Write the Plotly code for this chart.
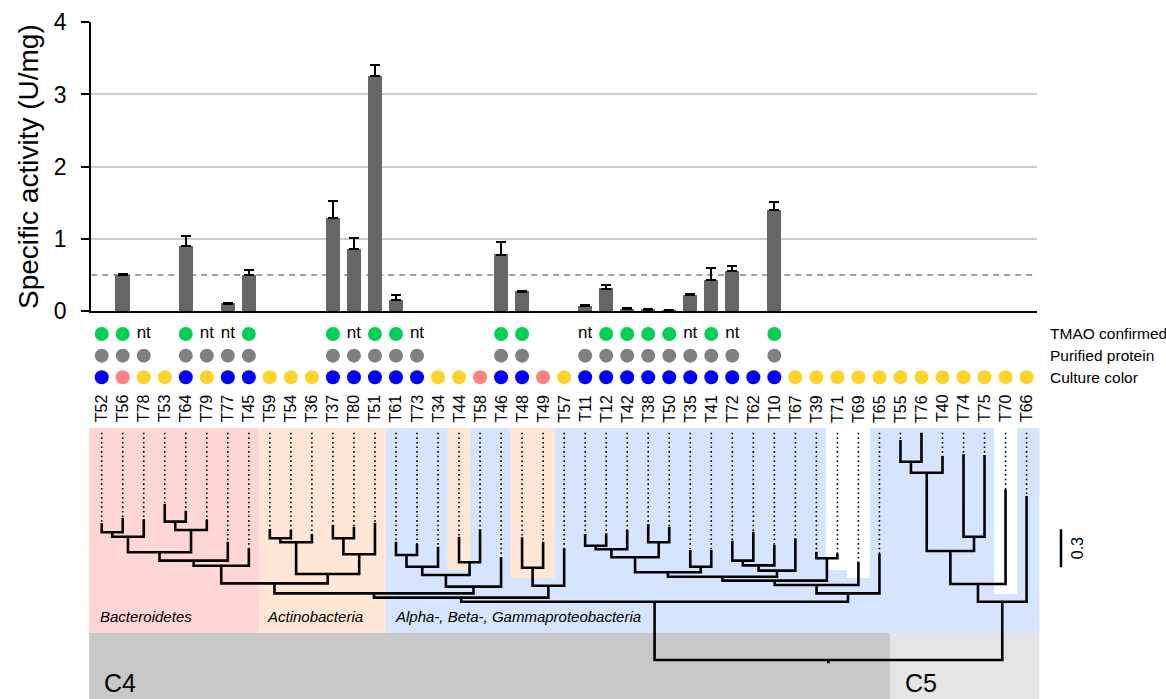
import plotly.graph_objects as go

W, H = 1166, 699
FONT = "Liberation Sans, Arial, sans-serif"

# ---------------------------------------------------------------- data
strains = ["T52", "T56", "T78", "T53", "T64", "T79", "T77", "T45", "T59", "T54",
           "T36", "T37", "T80", "T51", "T61", "T73", "T34", "T44", "T58", "T46",
           "T48", "T49", "T57", "T11", "T12", "T42", "T38", "T50", "T35", "T41",
           "T72", "T62", "T10", "T67", "T39", "T71", "T69", "T65", "T55", "T76",
           "T40", "T74", "T75", "T70", "T66"]

# specific activity (U/mg) and its SD; None = not measured
activity = [None, 0.50, None, None, 0.90, None, 0.10, 0.50, None, None,
            None, 1.29, 0.86, 3.25, 0.15, None, None, None, None, 0.78,
            0.27, None, None, 0.07, 0.31, 0.03, 0.02, 0.008, 0.22, 0.43,
            0.55, None, 1.40, None, None, None, None, None, None, None,
            None, None, None, None, None]
activity_sd = [None, 0.01, None, None, 0.14, None, 0.015, 0.07, None, None,
               None, 0.23, 0.15, 0.16, 0.07, None, None, None, None, 0.18,
               0.01, None, None, 0.01, 0.05, 0.01, 0.01, 0.0, 0.01, 0.16,
               0.08, None, 0.11, None, None, None, None, None, None, None,
               None, None, None, None, None]
threshold = 0.5

# TMAO confirmed: "y" = confirmed, "nt" = not tested, "" = no entry
tmao = ["y", "y", "nt", "", "y", "nt", "nt", "y", "", "",
        "", "y", "nt", "y", "y", "nt", "", "", "", "y",
        "y", "", "", "nt", "y", "y", "y", "y", "nt", "y",
        "nt", "", "y", "", "", "", "", "", "", "",
        "", "", "", "", ""]
purified = [1, 1, 1, 0, 1, 1, 1, 1, 0, 0,
            0, 1, 1, 1, 1, 1, 0, 0, 0, 1,
            1, 0, 0, 1, 1, 1, 1, 1, 1, 1,
            1, 0, 1, 0, 0, 0, 0, 0, 0, 0,
            0, 0, 0, 0, 0]
culture = ["blue", "pink", "yellow", "yellow", "blue", "yellow", "blue", "blue", "yellow", "yellow",
           "yellow", "blue", "blue", "blue", "blue", "blue", "yellow", "yellow", "pink", "blue",
           "blue", "pink", "yellow", "blue", "blue", "blue", "blue", "blue", "blue", "blue",
           "blue", "blue", "blue", "yellow", "yellow", "yellow", "yellow", "yellow", "yellow", "yellow",
           "yellow", "yellow", "yellow", "yellow", "yellow"]
row_labels = ["TMAO confirmed", "Purified protein", "Culture color"]

# tree: distance of every tip from the root (substitutions per site)
tip_depth = [1.079, 1.123, 1.110, 1.231, 1.178, 1.110, 0.934, 0.882, 1.034, 1.026,
             0.994, 1.066, 1.052, 1.084, 0.934, 0.916, 0.894, 0.973, 1.032, 0.811,
             0.968, 0.934, 0.882, 0.994, 1.000, 1.026, 1.073, 1.052, 0.868, 0.868,
             0.942, 1.013, 0.908, 0.961, 0.855, 0.842, 0.776, 0.837, 1.736, 1.794,
             1.610, 1.624, 1.618, 1.347, 1.294]
# internal nodes: (node, child a, child b, distance from root)
tree_nodes = [
    ("n1", "T52", "T56", 1.008), ("n2", "n1", "T78", 0.973),
    ("n3", "T53", "T64", 1.092), ("n4", "n3", "T79", 1.026),
    ("n5", "n2", "n4", 0.850), ("n6", "n5", "T77", 0.784),
    ("n7", "n6", "T45", 0.744),
    ("n8", "T59", "T54", 0.961), ("n9", "n8", "T36", 0.929),
    ("n10", "T37", "T80", 0.961), ("n11", "n10", "T51", 0.834),
    ("n12", "n9", "n11", 0.679), ("n13", "n7", "n12", 0.605),
    ("n14", "T61", "T73", 0.829), ("n15", "n14", "T34", 0.736),
    ("n16", "T44", "T58", 0.771), ("n17", "n15", "n16", 0.671),
    ("n18", "n17", "T46", 0.579), ("n19", "n13", "n18", 0.526),
    ("n22", "T48", "T49", 0.728), ("n23", "n22", "T57", 0.586),
    ("n20", "n19", "n23", 0.492),
    ("n24", "T11", "T12", 0.902), ("n25", "n24", "T42", 0.874),
    ("n26", "T38", "T50", 0.929), ("n27", "n25", "n26", 0.811),
    ("n28", "T35", "T41", 0.736), ("n29", "n27", "n28", 0.692),
    ("n30", "T72", "T62", 0.784), ("n31", "n30", "T10", 0.747),
    ("n32", "n31", "T67", 0.705), ("n33", "n29", "n32", 0.657),
    ("n34", "T39", "T71", 0.803), ("n35", "n33", "n34", 0.626),
    ("n36", "n35", "T69", 0.592), ("n37", "n36", "T65", 0.526),
    ("n21", "n20", "n37", 0.460),
    ("n38", "T55", "T76", 1.565), ("n39", "n38", "T40", 1.478),
    ("n40", "T74", "T75", 0.973), ("n41", "n39", "n40", 0.860),
    ("n42", "n41", "T70", 0.600), ("n43", "n42", "T66", 0.460),
    ("root", "n21", "n43", 0.0),
]
root_stem = 0.026
scale_length = 0.3

# taxonomic shading: (label, first tip, last tip, colour key) and insets reaching down to a depth
taxa = [("Bacteroidetes", "T52", "T45", "bact"),
        ("Actinobacteria", "T59", "T51", "actino"),
        ("Alpha-, Beta-, Gammaproteobacteria", "T61", "T66", "proteo")]
taxa_insets = [("T44", "T44", 0.710, "actino"), ("T48", "T49", 0.647, "actino"),
               ("T71", "T71", 0.710, "none"), ("T69", "T69", 0.647, "none"),
               ("T70", "T70", 0.521, "none")]
clusters = [("C4", "T52", "T65", "c4"), ("C5", "T55", "T66", "c5")]

# ---------------------------------------------------------------- styles
dot_colors = {"blue": "#0000ff", "pink": "#ff8080", "yellow": "#ffd42a"}
fill_colors = {"bact": "#ffd5d5", "actino": "#ffe6d5", "proteo": "#d5e5ff",
               "none": "#ffffff", "c4": "#c8c8c8", "c5": "#e5e5e5"}
GREEN, GREY = "#00d152", "#808080"

# horizontal geometry: tip i sits at X0 + DX * i pixels
X0, DX = 101.7, 21.02


def xdom(lo, hi):
    return [(X0 + DX * lo) / W, (X0 + DX * hi) / W]


def py(px):
    return 1 - px / H


n = len(strains)
idx = list(range(n))
pos = {s: i for i, s in enumerate(strains)}

fig = go.Figure()

# ---------------------------------------------------------------- bars
fig.add_trace(go.Bar(
    x=idx, y=activity, width=0.67, marker=dict(color="#666666", line=dict(width=0)),
    error_y=dict(type="data", array=activity_sd, arrayminus=[0] * n, symmetric=False,
                 color="black", thickness=2, width=5),
    xaxis="x", yaxis="y", showlegend=False, hoverinfo="skip"))

# ---------------------------------------------------------------- dot rows
ty = [i for i in idx if tmao[i] == "y"]
tn = [i for i in idx if tmao[i] == "nt"]
fig.add_trace(go.Scatter(x=ty, y=[2] * len(ty), mode="markers",
                         marker=dict(size=14, color=GREEN), xaxis="x2", yaxis="y2",
                         showlegend=False, hoverinfo="skip"))
fig.add_trace(go.Scatter(x=tn, y=[2] * len(tn), mode="text", text=["nt"] * len(tn),
                         textfont=dict(size=17, color="black", family=FONT),
                         xaxis="x2", yaxis="y2", showlegend=False, hoverinfo="skip"))
pp = [i for i in idx if purified[i]]
fig.add_trace(go.Scatter(x=pp, y=[1] * len(pp), mode="markers",
                         marker=dict(size=14, color=GREY), xaxis="x2", yaxis="y2",
                         showlegend=False, hoverinfo="skip"))
fig.add_trace(go.Scatter(x=idx, y=[0] * n, mode="markers",
                         marker=dict(size=14, color=[dot_colors[c] for c in culture]),
                         xaxis="x2", yaxis="y2", showlegend=False, hoverinfo="skip"))

# ---------------------------------------------------------------- tree
coord = {s: (i, tip_depth[i]) for i, s in enumerate(strains)}
solid_x, solid_y = [], []
for name, a, b, d in tree_nodes:
    xa, da = coord[a]
    xb, db = coord[b]
    solid_x += [xa, xa, xb, xb, None]
    solid_y += [da, d, d, db, None]
    coord[name] = ((xa + xb) / 2, d)
rx, rd = coord["root"]
solid_x += [rx, rx, None]
solid_y += [rd, rd - root_stem, None]

top = max(tip_depth)
dot_x, dot_y = [], []
for i in idx:
    if tip_depth[i] < top - 1e-6:
        dot_x += [i, i, None]
        dot_y += [top, tip_depth[i], None]

fig.add_trace(go.Scatter(x=dot_x, y=dot_y, mode="lines",
                         line=dict(color="black", width=1.6, dash="1.6px,3px"),
                         xaxis="x3", yaxis="y3", showlegend=False, hoverinfo="skip"))
fig.add_trace(go.Scatter(x=solid_x, y=solid_y, mode="lines",
                         line=dict(color="black", width=2.6),
                         xaxis="x3", yaxis="y3", showlegend=False, hoverinfo="skip"))

# ---------------------------------------------------------------- layout
X3_LO, X3_HI = -0.6, 44.62
Y3_LO, Y3_HI = -0.308, 1.831
band_bottom = 0.213

shapes = []
for k, (label, first, last, col) in enumerate(taxa):
    x0 = X3_LO if k == 0 else pos[first] - 0.5
    x1 = X3_HI if k == len(taxa) - 1 else pos[last] + 0.5
    shapes.append(dict(type="rect", xref="x3", yref="y3", x0=x0, x1=x1,
                       y0=band_bottom, y1=Y3_HI, fillcolor=fill_colors[col],
                       line=dict(width=0), layer="below"))
for first, last, depth, col in taxa_insets:
    shapes.append(dict(type="rect", xref="x3", yref="y3", x0=pos[first] - 0.55,
                       x1=pos[last] + 0.55, y0=depth, y1=Y3_HI,
                       fillcolor=fill_colors[col], line=dict(width=0), layer="below"))
for k, (label, first, last, col) in enumerate(clusters):
    x0 = X3_LO if k == 0 else pos[first] - 0.5
    x1 = X3_HI if k == len(clusters) - 1 else pos[last] + 0.5
    shapes.append(dict(type="rect", xref="x3", yref="y3", x0=x0, x1=x1,
                       y0=Y3_LO, y1=band_bottom, fillcolor=fill_colors[col],
                       line=dict(width=0), layer="below"))

# threshold line
shapes.append(dict(type="line", xref="x", yref="y", x0=-0.5, x1=44.5,
                   y0=threshold, y1=threshold, layer="below",
                   line=dict(color="#a0a0a0", width=2, dash="6px,5px")))
# scale bar
scale_lo = 0.732
shapes.append(dict(type="line", xref="paper", yref="y3", x0=1061 / W, x1=1061 / W,
                   y0=scale_lo, y1=scale_lo + scale_length,
                   line=dict(color="black", width=2.5)))

annotations = []
for i, s in enumerate(strains):
    annotations.append(dict(x=i, y=py(408.5), xref="x2", yref="paper", text=s,
                            textangle=-90, showarrow=False,
                            font=dict(size=16, color="black", family=FONT),
                            xanchor="center", yanchor="middle"))
for r, lab in zip([2, 1, 0], row_labels):
    annotations.append(dict(x=1048 / W, y=r, xref="paper", yref="y2", text=lab,
                            showarrow=False, xanchor="left", yanchor="middle",
                            font=dict(size=15.5, color="black", family=FONT)))
annotations.append(dict(x=28 / W, y=py(167), xref="paper", yref="paper",
                        text="Specific activity (U/mg)", textangle=-90, showarrow=False,
                        font=dict(size=28, color="black", family=FONT),
                        xanchor="center", yanchor="middle"))
taxa_label_px = [98, 265, 393]
for (label, first, last, col), lx in zip(taxa, taxa_label_px):
    annotations.append(dict(x=lx / W, y=py(616), xref="paper", yref="paper",
                            text="<i>%s</i>" % label, showarrow=False,
                            xanchor="left", yanchor="middle",
                            font=dict(size=15, color="black", family=FONT)))
cluster_label_px = [102, 903]
for (label, first, last, col), lx in zip(clusters, cluster_label_px):
    annotations.append(dict(x=lx / W, y=py(683), xref="paper", yref="paper",
                            text=label, showarrow=False, xanchor="left",
                            yanchor="middle",
                            font=dict(size=25, color="black", family=FONT)))
annotations.append(dict(x=1077 / W, y=scale_lo + scale_length / 2, xref="paper",
                        yref="y3", text="%.1f" % scale_length, textangle=-90,
                        showarrow=False, xanchor="center", yanchor="middle",
                        font=dict(size=16, color="black", family=FONT)))

hidden = dict(visible=False, automargin=False)
fig.update_layout(
    width=W, height=H,
    margin=dict(l=0, r=0, t=0, b=0, pad=0, autoexpand=False),
    paper_bgcolor="white", plot_bgcolor="rgba(0,0,0,0)",
    font=dict(family=FONT, color="black"),
    bargap=0,
    xaxis=dict(domain=xdom(-0.5, 44.5), range=[-0.5, 44.5], anchor="y",
               automargin=False,
               showgrid=False, zeroline=False, showticklabels=False, ticks="",
               showline=True, linecolor="black", linewidth=2),
    yaxis=dict(domain=[py(311), py(22.3)], range=[0, 4], anchor="x",
               automargin=False,
               tickvals=[0, 1, 2, 3, 4], ticks="outside", ticklen=8, tickwidth=2,
               tickcolor="black", tickfont=dict(size=23, color="black", family=FONT),
               ticklabelstandoff=10,
               showgrid=True, gridcolor="#cccccc", gridwidth=2, zeroline=False,
               showline=True, linecolor="black", linewidth=2),
    xaxis2=dict(domain=xdom(-0.5, 44.5), range=[-0.5, 44.5], anchor="y2", **hidden),
    yaxis2=dict(domain=[py(377.3 + 21.65 * 0.5), py(377.3 - 21.65 * 2.5)],
                range=[-0.5, 2.5], anchor="x2", **hidden),
    xaxis3=dict(domain=xdom(X3_LO, X3_HI), range=[X3_LO, X3_HI], anchor="y3", **hidden),
    yaxis3=dict(domain=[0, py(428)], range=[Y3_LO, Y3_HI], anchor="x3", **hidden),
    shapes=shapes, annotations=annotations,
)

fig.write_html("out.html")
